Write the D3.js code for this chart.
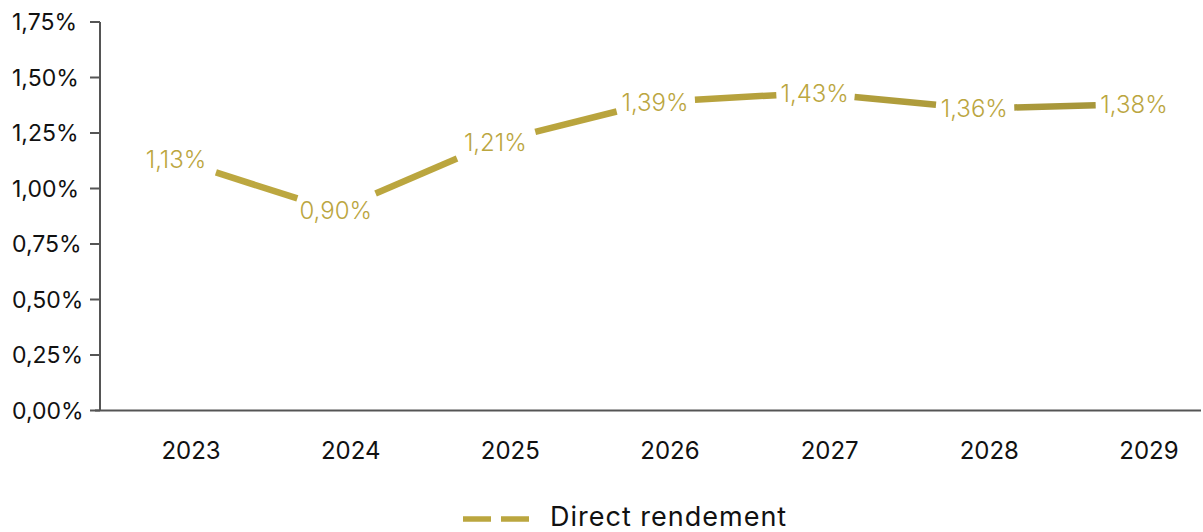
<!DOCTYPE html>
<html>
<head>
<meta charset="utf-8">
<script src="https://cdn.jsdelivr.net/npm/d3@7"></script>
<style>
  body { margin: 0; background: #fff; }
  text { font-family: Inter, "Noto Sans", sans-serif; }
</style>
</head>
<body>
<div id="chart"></div>
<script>
(function(window, d3) {
  'use strict';

  var years = ['2023', '2024', '2025', '2026', '2027', '2028', '2029'];
  var rendement = [1.13, 0.90, 1.21, 1.39, 1.43, 1.36, 1.38];
  var yTicks = [0, 0.25, 0.5, 0.75, 1, 1.25, 1.5, 1.75];
  var seriesName = 'Direct rendement';

  var width = 1203, height = 532;
  var gold = '#bba63f';

  var svg = d3.select('#chart').append('svg')
    .attr('width', width)
    .attr('height', height);

  var defs = svg.append('defs');
  var grad = defs.append('linearGradient')
    .attr('id', 'lineGrad')
    .attr('gradientUnits', 'userSpaceOnUse')
    .attr('x1', 176).attr('x2', 1134).attr('y1', 0).attr('y2', 0);
  grad.append('stop').attr('offset', '0%').attr('stop-color', '#bda840');
  grad.append('stop').attr('offset', '55%').attr('stop-color', '#b8a33d');
  grad.append('stop').attr('offset', '100%').attr('stop-color', '#a5953a');

  var x = d3.scalePoint().domain(years).range([176, 1134]);
  var y = d3.scaleLinear().domain([0, 1.75]).range([410.5, 22]);

  var fmt = function(v) { return d3.format('.2f')(v).replace('.', ',') + '%'; };

  // y axis
  var yAxis = svg.append('g').attr('transform', 'translate(100,0)');
  yAxis.append('line')
    .attr('x1', 0).attr('x2', 0)
    .attr('y1', y(1.75)).attr('y2', y(0))
    .attr('stroke', '#555').attr('stroke-width', 2);
  yAxis.selectAll('line.tick')
    .data(yTicks)
    .enter().append('line')
    .attr('class', 'tick')
    .attr('x1', -10).attr('x2', 0)
    .attr('y1', function(d) { return y(d); })
    .attr('y2', function(d) { return y(d); })
    .attr('stroke', '#555').attr('stroke-width', 2);
  yAxis.selectAll('text')
    .data(yTicks)
    .enter().append('text')
    .attr('x', -88)
    .attr('y', function(d) { return y(d); })
    .attr('dy', '0.36em')
    .attr('font-size', 23)
    .attr('fill', '#111')
    .text(fmt);

  // x axis
  svg.append('line')
    .attr('x1', 95).attr('x2', 1201)
    .attr('y1', y(0)).attr('y2', y(0))
    .attr('stroke', '#555').attr('stroke-width', 2);
  svg.append('g').selectAll('text')
    .data(years)
    .enter().append('text')
    .attr('x', function(d) { return x(d) + 15; })
    .attr('y', 459)
    .attr('text-anchor', 'middle')
    .attr('font-size', 24)
    .attr('fill', '#111')
    .text(String);

  // dashed line: middle half of each segment
  var pts = years.map(function(d, i) { return [x(d), y(rendement[i])]; });
  var segs = d3.pairs(pts);
  svg.append('g').selectAll('line')
    .data(segs)
    .enter().append('line')
    .attr('x1', function(s) { return d3.interpolateNumber(s[0][0], s[1][0])(0.25); })
    .attr('y1', function(s) { return d3.interpolateNumber(s[0][1], s[1][1])(0.25); })
    .attr('x2', function(s) { return d3.interpolateNumber(s[0][0], s[1][0])(0.76); })
    .attr('y2', function(s) { return d3.interpolateNumber(s[0][1], s[1][1])(0.76); })
    .attr('stroke', 'url(#lineGrad)')
    .attr('stroke-width', 6.5);

  // value labels
  svg.append('g').selectAll('text')
    .data(rendement)
    .enter().append('text')
    .attr('x', function(d, i) { return x(years[i]); })
    .attr('y', function(d) { return y(d); })
    .attr('dy', '0.36em')
    .attr('text-anchor', 'middle')
    .attr('font-size', 24)
    .attr('font-weight', 300)
    .attr('fill', gold)
    .text(fmt);

  // legend
  var legend = svg.append('g');
  legend.append('line')
    .attr('x1', 463).attr('x2', 530)
    .attr('y1', 519).attr('y2', 519)
    .attr('stroke', gold).attr('stroke-width', 5.5)
    .attr('stroke-dasharray', '28,10');
  legend.append('text')
    .attr('x', 550).attr('y', 526)
    .attr('font-size', 27)
    .attr('letter-spacing', 1)
    .attr('fill', '#111')
    .text(seriesName);

})(window, window.d3);
</script>
</body>
</html>
